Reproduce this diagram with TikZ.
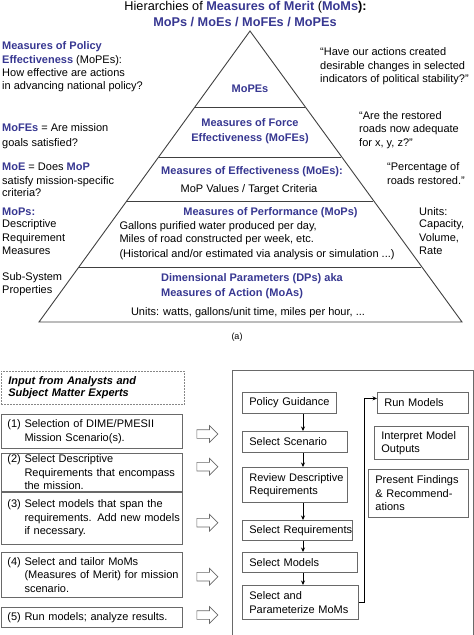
\documentclass[tikz,border=0pt]{standalone}
\usepackage{fontspec}
\setmainfont{Liberation Sans}
\usetikzlibrary{shapes.arrows,arrows.meta,calc}
\definecolor{mblue}{RGB}{55,55,145}
\definecolor{boxgray}{RGB}{105,105,105}
\newcommand{\hb}[1]{\textcolor{mblue}{\textbf{#1}}}
\newcommand{\lineof}[1]{\mbox{#1}}
\begin{document}
\begin{tikzpicture}[x=1pt,y=-1pt,
  txt/.style={inner sep=0pt,font=\fontsize{11}{13.3}\selectfont},
  lw/.style={txt,anchor=base west},
  lc/.style={txt,anchor=base},
  pyr/.style={draw=black!75,line width=0.9pt},
  fbox/.style={draw=boxgray,line width=0.8pt,anchor=north west,align=left,inner xsep=6.5pt,inner ysep=1pt,font=\fontsize{11}{13.5}\selectfont},
  rbox/.style={fbox,inner xsep=7pt},
  harrow/.style={single arrow,draw=boxgray,line width=0.7pt,inner sep=4pt,minimum height=21pt,single arrow head extend=4pt,anchor=west},
  varr/.style={-{Stealth[length=4.5pt,width=4pt]},line width=0.8pt}
]
\useasboundingbox (0,0) rectangle (474,635);

% ---------- title ----------
\node[lc,font=\fontsize{12.7}{15}\selectfont] (t1) at (245.5,10.5) {Hierarchies of \hb{Measures of Merit} (\hb{MoMs}\textbf{):}};
\node[lc,font=\fontsize{12.7}{15}\selectfont] (t2) at (245,26) {\hb{MoPs / MoEs / MoFEs / MoPEs}};

% ---------- pyramid ----------
\coordinate (apex) at (250,31);
\coordinate (bl) at (39,322);
\coordinate (br) at (462,322);
\draw[pyr] (apex) -- (bl) -- (br) -- cycle;
\coordinate (d1l) at (194.9,107); \coordinate (d1r) at (305.1,107);
\coordinate (d2l) at (158.6,157); \coordinate (d2r) at (341.4,157);
\coordinate (d3l) at (126.7,201); \coordinate (d3r) at (373.3,201);
\coordinate (d4l) at (78.9,267);  \coordinate (d4r) at (421.1,267);
\draw[pyr] (d1l) -- (d1r);
\draw[pyr] (d2l) -- (d2r);
\draw[pyr] (d3l) -- (d3r);
\draw[pyr] (d4l) -- (d4r);

\node[lc] (p1) at (250,92.8) {\hb{MoPEs}};
\node[lc] (p2a) at (250,126.8) {\hb{Measures of Force}};
\node[lc] (p2b) at (250,141.8) {\hb{Effectiveness (MoFEs)}};
\node[lc] (p3a) at (252,174.2) {\hb{Measures of Effectiveness (MoEs):}};
\node[lc] (p3b) at (249,192.5) {MoP Values / Target Criteria};
\node[lc] (p4a) at (270.5,215.8) {\hb{Measures of Performance (MoPs)}};
\node[lw] (p4b) at (119.3,229.5) {Gallons purified water produced per day,};
\node[lw] (p4c) at (119.3,242.8) {Miles of road constructed per week, etc.};
\node[lw] (p4d) at (119.3,257.5) {(Historical and/or estimated via analysis or simulation ...)};
\node[lw] (p5a) at (161,281.2) {\hb{Dimensional Parameters (DPs) aka}};
\node[lw] (p5b) at (161,296.8) {\hb{Measures of Action (MoAs)}};
\node[lc] (p5c) at (248,315.8) {Units: watts, gallons/unit time, miles per hour, ...};
\node[lc,font=\fontsize{9}{11}\selectfont] (cap) at (237,339) {(a)};

% ---------- left annotations ----------
\node[lw] (l1a) at (2,49.5) {\hb{Measures of Policy}};
\node[lw] (l1b) at (2,63) {\hb{Effectiveness} (MoPEs):};
\node[lw] (l1c) at (2,76.5) {How effective are actions};
\node[lw] (l1d) at (2,89.5) {in advancing national policy?};
\node[lw] (l2a) at (2,131.8) {\hb{MoFEs} = Are mission};
\node[lw] (l2b) at (2,146.2) {goals satisfied?};
\node[lw] (l3a) at (2,170.8) {\hb{MoE} = Does \hb{MoP}};
\node[lw] (l3b) at (2,184.5) {satisfy mission-specific};
\node[lw] (l3c) at (2,196.8) {criteria?};
\node[lw] (l4a) at (2,215.2) {\hb{MoPs:}};
\node[lw] (l4b) at (2,227.5) {Descriptive};
\node[lw] (l4c) at (2,241.8) {Requirement};
\node[lw] (l4d) at (2,254.2) {Measures};
\node[lw] (l5a) at (2,280.8) {Sub-System};
\node[lw] (l5b) at (2,293.5) {Properties};

% ---------- right annotations ----------
\node[lw] (r1a) at (320,55.5) {“Have our actions created};
\node[lw] (r1b) at (320,69.2) {desirable changes in selected};
\node[lw] (r1c) at (320,82.5) {indicators of political stability?”};
\node[lw] (r2a) at (359,119.5) {“Are the restored};
\node[lw] (r2b) at (359,132.8) {roads now adequate};
\node[lw] (r2c) at (359,146.8) {for x, y, z?”};
\node[lw] (r3a) at (387,170.8) {“Percentage of};
\node[lw] (r3b) at (387,184.5) {roads restored.”};
\node[lw] (r4a) at (419,215.2) {Units:};
\node[lw] (r4b) at (419,227.5) {Capacity,};
\node[lw] (r4c) at (419,241.8) {Volume,};
\node[lw] (r4d) at (419,254.2) {Rate};

% ---------- bottom left ----------
\node[fbox,draw=boxgray!80,dash pattern=on 1.6pt off 1.4pt,text width=168.5pt,minimum height=33pt,inner xsep=7.5pt,font=\fontsize{11}{12}\selectfont] (inp) at (0.5,371)
  {\lineof{\textbf{\textit{Input from Analysts and}}}\\\lineof{\textbf{\textit{Subject Matter Experts}}}};
\node[fbox,text width=168.5pt,minimum height=34pt] (b1) at (0.5,414)
  {\lineof{(1) Selection of DIME/PMESII}\\\lineof{\hphantom{(1)~}Mission Scenario(s).}};
\node[fbox,text width=168.5pt,minimum height=37.5pt] (b2) at (0.5,453)
  {\lineof{(2) Select Descriptive}\\\lineof{\hphantom{(2)~}Requirements that encompass}\\\lineof{\hphantom{(2)~}the mission.}};
\node[fbox,text width=168.5pt,minimum height=52pt] (b3) at (0.5,492)
  {\lineof{(3) Select models that span the}\\\lineof{\hphantom{(3)~}requirements. Add new models}\\\lineof{\hphantom{(3)~}if necessary.}};
\node[fbox,text width=168.5pt,minimum height=45pt] (b4) at (0.5,552)
  {\lineof{(4) Select and tailor MoMs}\\\lineof{\hphantom{(4)~}(Measures of Merit) for mission}\\\lineof{\hphantom{(4)~}scenario.}};
\node[fbox,text width=168.5pt,minimum height=20pt] (b5) at (0.5,607)
  {\lineof{(5) Run models; analyze results.}};

\node[harrow] (h1) at (196.5,434) {};
\node[harrow] (h2) at (196.5,466.7) {};
\node[harrow] (h3) at (196.5,522.7) {};
\node[harrow] (h4) at (196.5,576.7) {};
\node[harrow] (h5) at (196.5,615) {};

% ---------- bottom right ----------
\draw[draw=boxgray,line width=0.8pt] (232,370) rectangle (473,650);

\node[rbox,text width=80pt,minimum height=21pt] (pg) at (242,392) {\lineof{Policy Guidance}};
\node[rbox,text width=91pt,minimum height=21pt] (ss) at (242,431) {\lineof{Select Scenario}};
\node[rbox,text width=91pt,minimum height=35pt] (rd) at (242,467) {\lineof{Review Descriptive}\\\lineof{Requirements}};
\node[rbox,text width=96pt,minimum height=20pt] (sr) at (242,520) {\lineof{Select Requirements}};
\node[rbox,text width=101pt,minimum height=20pt] (sm) at (242,552) {\lineof{Select Models}};
\node[rbox,text width=102pt,minimum height=34pt] (sp) at (242,585) {\lineof{Select and}\\\lineof{Parameterize MoMs}};
\node[rbox,text width=77pt,minimum height=21pt] (rm) at (377,392) {\lineof{Run Models}};
\node[rbox,text width=80pt,minimum height=33pt] (im) at (374,426) {\lineof{Interpret Model}\\\lineof{Outputs}};
\node[rbox,text width=86pt,minimum height=48pt] (pf) at (368,469) {\lineof{Present Findings}\\\lineof{\& Recommend-}\\\lineof{ations}};

\coordinate (ax) at (303,0);
\draw[varr] (pg.south -| ax) -- (ss.north -| ax);
\draw[varr] (ss.south -| ax) -- (rd.north -| ax);
\draw[varr] (rd.south -| ax) -- (sr.north -| ax);
\draw[varr] (sr.south -| ax) -- (sm.north -| ax);
\draw[varr] (sm.south -| ax) -- (sp.north -| ax);
\coordinate (turn) at (364,0);
\coordinate (rmin) at ($(rm.west)+(0,-4.5)$);
\draw[varr] (sp.east) -- (sp.east -| turn) -- (turn |- rmin) -- (rmin);
\end{tikzpicture}
\end{document}
